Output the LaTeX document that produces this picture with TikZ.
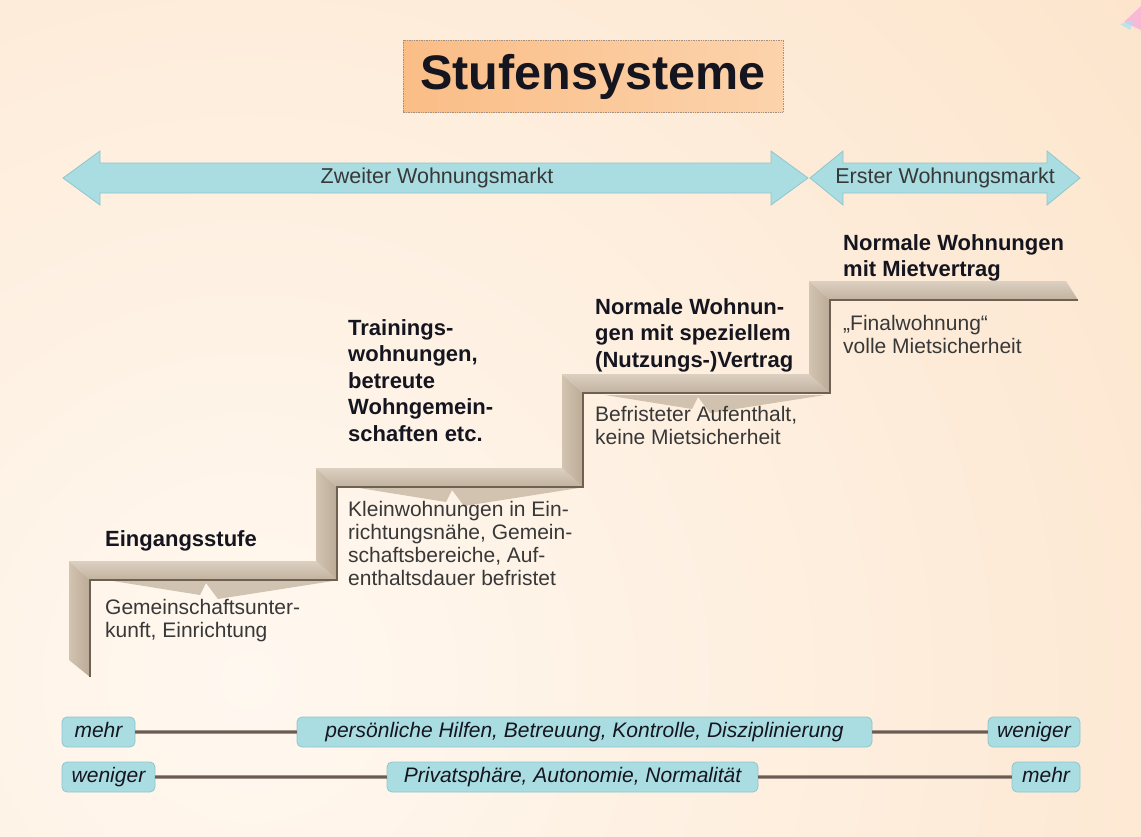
\documentclass[tikz,border=0pt]{standalone}
\usepackage{fontspec}
\setmainfont{Liberation Sans}
\usetikzlibrary{calc}
\definecolor{bgin}{HTML}{FFF8F0}
\definecolor{bgout}{HTML}{FBD8B4}
\definecolor{cyanfill}{HTML}{AADDE2}
\definecolor{cyanedge}{HTML}{8FC6CC}
\definecolor{stairA}{HTML}{D3C4B1}
\definecolor{stairB}{HTML}{BAAA96}
\definecolor{stairdark}{HTML}{6F6152}
\definecolor{stairshadow}{HTML}{CDBEAB}
\definecolor{txtdark}{HTML}{15151F}
\definecolor{txtgray}{HTML}{383838}
\definecolor{titleA}{HTML}{FABD86}
\definecolor{titleB}{HTML}{FCD3AC}
\definecolor{linkA}{HTML}{A09288}
\definecolor{linkB}{HTML}{6A5C52}
\tikzset{
  boldlabel/.style={font=\bfseries\fontsize{22}{26.6}\selectfont, text=txtdark, align=left, inner sep=0pt, anchor=base west},
  plainlabel/.style={font=\fontsize{21}{23}\selectfont, text=txtgray, align=left, inner sep=0pt, anchor=base west},
  marketarrow/.style={fill=cyanfill, draw=cyanedge, line width=0.8pt, line join=miter},
  markettext/.style={font=\fontsize{21.5}{24}\selectfont, text=txtgray, inner sep=0pt},
  tag/.style={rounded corners=5pt, fill=cyanfill, draw=cyanedge, line width=0.8pt, minimum height=30pt, inner sep=0pt, text height=15pt, text depth=4pt, text=txtdark, font=\itshape\fontsize{21}{24}\selectfont},
  linkback/.style={draw=linkA, line width=3.2pt},
  linkfront/.style={draw=linkB, line width=1.1pt},
  riser/.style={left color=stairA, right color=stairB},
  tread/.style={top color=stairA!80!white, bottom color=stairB!70!stairA},
  stairshade/.style={fill=stairshadow, opacity=0.9},
  frontedge/.style={draw=stairdark, line width=1.8pt, line join=miter}
}
\begin{document}
\begin{tikzpicture}[x=1pt,y=-1pt]
\useasboundingbox (0,0) rectangle (1141,836);
% background
\begin{scope}
  \clip (0,0) rectangle (1141,836);
  \shade[inner color=bgin, outer color=bgout] (250,680) circle (1900);
  \fill[magenta!35, opacity=0.7] (1124,22) -- (1141,6) -- (1141,30) -- cycle;
  \fill[cyan!35, opacity=0.7] (1120,24) -- (1134,20) -- (1130,30) -- cycle;
\end{scope}

% title
\shade[left color=titleA, right color=titleB, draw=linkA, line width=0.7pt, densely dotted] (403,40) rectangle (783,112);
\node[font=\bfseries\fontsize{48.5}{50}\selectfont, text=txtdark, inner sep=0pt] (title) at (593,77) {Stufensysteme};

% market arrows
\path[marketarrow] (63,178) -- (100,151) -- (100,163) -- (771,163) -- (771,151) -- (808,178)
  -- (771,205) -- (771,193) -- (100,193) -- (100,205) -- cycle;
\path[marketarrow] (810,178) -- (843,151) -- (843,163) -- (1047,163) -- (1047,151) -- (1080,178)
  -- (1047,205) -- (1047,193) -- (843,193) -- (843,205) -- cycle;
\node[markettext] (zweiter) at (437,178) {Zweiter Wohnungsmarkt};
\node[markettext] (erster) at (945,178) {Erster Wohnungsmarkt};

% staircase
\coordinate (A0) at (90,677);  \coordinate (B0) at (69,660);
\coordinate (A1) at (90,580);  \coordinate (B1) at (69,561);
\coordinate (A2) at (337,580); \coordinate (B2) at (316,561);
\coordinate (A3) at (337,487); \coordinate (B3) at (316,468);
\coordinate (A4) at (583,487); \coordinate (B4) at (562,468);
\coordinate (A5) at (583,393); \coordinate (B5) at (562,374);
\coordinate (A6) at (830,393); \coordinate (B6) at (809,374);
\coordinate (A7) at (830,300); \coordinate (B7) at (809,281);
\coordinate (A8) at (1078,300); \coordinate (B8) at (1066,281);

\shade[riser] (A0) -- (A1) -- (B1) -- (B0) -- cycle;
\shade[tread] (A1) -- (A2) -- (B2) -- (B1) -- cycle;
\shade[riser] (A2) -- (A3) -- (B3) -- (B2) -- cycle;
\shade[tread] (A3) -- (A4) -- (B4) -- (B3) -- cycle;
\shade[riser] (A4) -- (A5) -- (B5) -- (B4) -- cycle;
\shade[tread] (A5) -- (A6) -- (B6) -- (B5) -- cycle;
\shade[riser] (A6) -- (A7) -- (B7) -- (B6) -- cycle;
\shade[tread] (A7) -- (A8) -- (B8) -- (B7) -- cycle;

% reflections below the treads
\foreach \dx/\dy in {0/0, 246/-93, 492/-186}{
  \fill[stairshade, shift={(\dx,\dy)}] (113,581) -- (200,595) -- (206,583) -- (218,599) -- (333,581) -- cycle;
}

\draw[frontedge] (A0) -- (A1) -- (A2) -- (A3) -- (A4) -- (A5) -- (A6) -- (A7) -- (A8);

% step labels (base anchor = baseline of last line)
\node[boldlabel] (eingang) at (105,546) {Eingangsstufe};
\node[plainlabel] (gemein) at (105,637) {Gemeinschaftsunter-\\kunft, Einrichtung};
\node[boldlabel] (training) at (348,441.4) {Trainings-\\wohnungen,\\betreute\\Wohngemein-\\schaften etc.};
\node[plainlabel] (klein) at (348,585) {Kleinwohnungen in Ein-\\richtungsnähe, Gemein-\\schaftsbereiche, Auf-\\enthaltsdauer befristet};
\node[boldlabel] (normal1) at (595,367.2) {Normale Wohnun-\\gen mit speziellem\\(Nutzungs-)Vertrag};
\node[plainlabel] (befrist) at (595,444) {Befristeter Aufenthalt,\\keine Mietsicherheit};
\node[boldlabel] (normal2) at (843,276.6) {Normale Wohnungen\\mit Mietvertrag};
\node[plainlabel] (final) at (843,353) {„Finalwohnung“\\volle Mietsicherheit};

% bottom scales
\node[tag, minimum width=73pt] (r1a) at (98.5,732) {mehr};
\node[tag, minimum width=575pt] (r1b) at (584.5,732) {persönliche Hilfen, Betreuung, Kontrolle, Disziplinierung};
\node[tag, minimum width=92pt] (r1c) at (1034,732) {weniger};
\node[tag, minimum width=93pt] (r2a) at (108.5,777) {weniger};
\node[tag, minimum width=371pt] (r2b) at (572.5,777) {Privatsphäre, Autonomie, Normalität};
\node[tag, minimum width=68pt] (r2c) at (1046,777) {mehr};
\foreach \p/\q in {r1a/r1b, r1b/r1c, r2a/r2b, r2b/r2c}{
  \draw[linkback] (\p) -- (\q);
  \draw[linkfront] (\p) -- (\q);
}
\end{tikzpicture}
\end{document}
